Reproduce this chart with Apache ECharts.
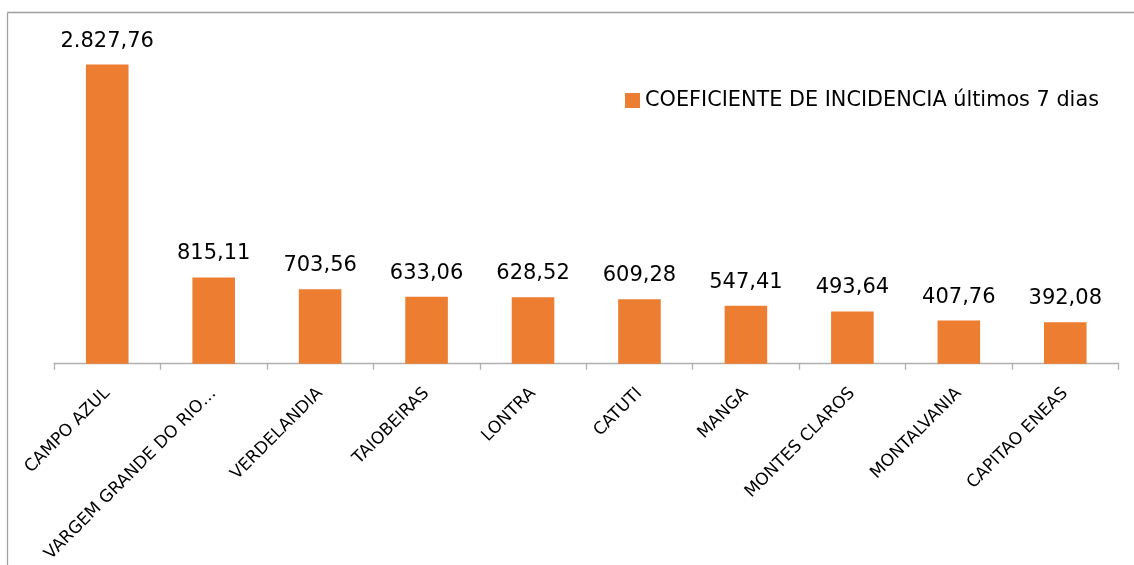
<!DOCTYPE html>
<html>
<head>
<meta charset="utf-8">
<script src="https://cdn.jsdelivr.net/npm/echarts@6/dist/echarts.min.js"></script>
<style>
  html, body { margin: 0; padding: 0; background: #ffffff; overflow: hidden; }
  #chart { width: 1134px; height: 565px; }
</style>
</head>
<body>
<div id="chart"></div>
<script>
const categories = ['CAMPO AZUL', 'VARGEM GRANDE DO RIO PARDO', 'VERDELANDIA', 'TAIOBEIRAS', 'LONTRA', 'CATUTI', 'MANGA', 'MONTES CLAROS', 'MONTALVANIA', 'CAPITAO ENEAS'];
const values = [2827.76, 815.11, 703.56, 633.06, 628.52, 609.28, 547.41, 493.64, 407.76, 392.08];
const seriesName = 'COEFICIENTE DE INCIDENCIA últimos 7 dias';

function fmtBR(v) {
  const parts = v.toFixed(2).split('.');
  const intPart = parts[0].replace(/\B(?=(\d{3})+(?!\d))/g, '.');
  return intPart + ',' + parts[1];
}

const FONT = '"DejaVu Sans", "Liberation Sans", Arial, sans-serif';
const chart = echarts.init(document.getElementById('chart'), null, { renderer: 'canvas' });
chart.setOption({
  animation: false,
  backgroundColor: '#ffffff',
  textStyle: { fontFamily: FONT },
  graphic: [{
    type: 'line',
    shape: { x1: 7.5, y1: 12.5, x2: 7.5, y2: 565 },
    style: { stroke: '#a0a0a0', lineWidth: 1.3 },
    silent: true,
    z: -1
  }, {
    type: 'line',
    shape: { x1: 7.5, y1: 12.5, x2: 1134, y2: 12.5 },
    style: { stroke: '#a0a0a0', lineWidth: 1.3 },
    silent: true,
    z: -1
  }],
  legend: {
    show: true,
    left: 620,
    top: 85,
    itemWidth: 15,
    itemHeight: 15,
    itemGap: 8,
    icon: 'rect',
    textStyle: { fontSize: 20.8, color: '#000000', fontFamily: FONT },
    data: [seriesName]
  },
  grid: { left: 54, right: 15.5, top: 46.4, bottom: 200.3, containLabel: false },
  xAxis: {
    type: 'category',
    data: categories,
    axisLine: { lineStyle: { color: '#b0b0b0', width: 1.3 } },
    axisTick: { show: true, alignWithLabel: false, length: 6, lineStyle: { color: '#b0b0b0', width: 1.3 } },
    axisLabel: {
      interval: 0,
      rotate: 45,
      margin: 27,
      fontSize: 17,
      color: '#000000',
      fontFamily: FONT,
      formatter: function (v) { return v.length > 20 ? v.slice(0, 20) + '…' : v; }
    }
  },
  yAxis: { type: 'value', min: 0, max: 3000, show: false, splitLine: { show: false } },
  series: [{
    name: seriesName,
    type: 'bar',
    data: values,
    barWidth: '40%',
    itemStyle: { color: '#ED7D31' },
    label: {
      show: true,
      position: 'top',
      distance: 13,
      fontSize: 21,
      color: '#000000',
      fontFamily: FONT,
      formatter: function (p) { return fmtBR(p.value); }
    }
  }]
});
</script>
</body>
</html>
